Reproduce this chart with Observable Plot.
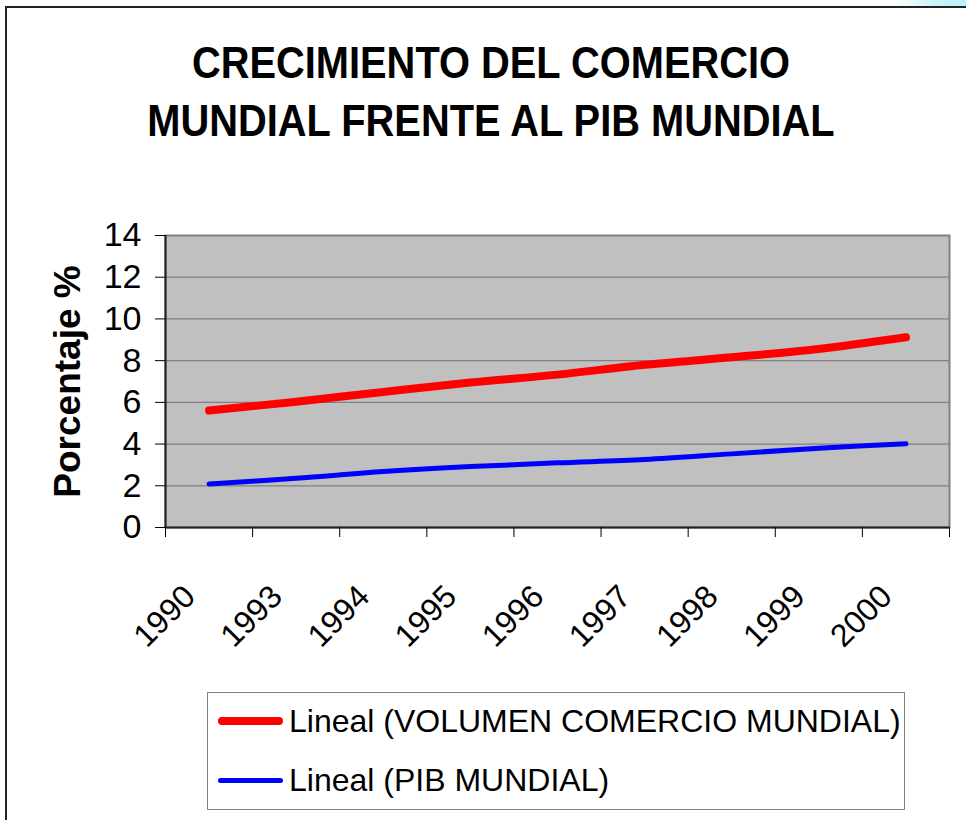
<!DOCTYPE html>
<html>
<head>
<meta charset="utf-8">
<script src="https://cdn.jsdelivr.net/npm/d3@7"></script>
<script src="https://cdn.jsdelivr.net/npm/@observablehq/plot@0.6"></script>
<style>
  html, body { margin: 0; padding: 0; background: #fff; }
  #page { position: relative; width: 966px; height: 820px; overflow: hidden; font-family: "Liberation Sans", Arial, sans-serif; color: #000; }
  #outer { position: absolute; left: 5px; top: 6px; width: 990px; height: 840px; border-left: 2px solid #222; border-top: 2px solid #222; }
  #glow { position: absolute; right: 0; top: 0; width: 70px; height: 6px; background: linear-gradient(to right, rgba(200,245,250,0), #c6f3f7 60%, #bdf0f5); }
  #title { position: absolute; left: 0; top: 0; width: 982px; text-align: center; font-weight: bold; font-size: 45px; line-height: 58px; padding-top: 34px; transform: scaleX(0.885); transform-origin: 491px 0; }
  #chart { position: absolute; left: 0; top: 165px; }
  #legend { position: absolute; left: 207px; top: 692px; width: 696px; height: 116px; border: 1.5px solid #808080; }
  .item { position: absolute; left: 0; height: 40px; font-size: 32px; white-space: nowrap; }
  .sw { position: absolute; left: 10px; width: 65px; border-radius: 5px; }
  .lab { position: absolute; left: 81px; top: 0; line-height: 40px; }
</style>
</head>
<body>
<div id="page">
  <div id="outer"></div>
  <div id="glow"></div>
  <div id="title"></div>
  <div id="chart"></div>
  <div id="legend"></div>
</div>
<script>
// ---- data ----
const titleLines = ["CRECIMIENTO DEL COMERCIO", "MUNDIAL FRENTE AL PIB MUNDIAL"];
const yLabel = "Porcentaje %";
const years = ["1990", "1993", "1994", "1995", "1996", "1997", "1998", "1999", "2000"];
const comercio = [5.61, 6.03, 6.5, 6.95, 7.33, 7.8, 8.16, 8.56, 9.12];
const pib = [2.09, 2.36, 2.68, 2.92, 3.10, 3.26, 3.53, 3.80, 4.01];
const yTicks = [0, 2, 4, 6, 8, 10, 12, 14];
const seriesNames = ["Lineal (VOLUMEN COMERCIO MUNDIAL)", "Lineal (PIB MUNDIAL)"];
const seriesColors = ["#ff0000", "#0000ff"];

// ---- title ----
document.getElementById("title").innerHTML = titleLines.map(t => `<div>${t}</div>`).join("");

// ---- chart ----
const boundaries = years.map((_, i) => i - 0.5).concat([years.length - 0.5]);
const redData = years.map((y, i) => ({i, v: comercio[i]}));
const blueData = years.map((y, i) => ({i, v: pib[i]}));

const chart = Plot.plot({
  width: 966,
  height: 502,
  marginLeft: 165,
  marginRight: 17,
  marginTop: 70,
  marginBottom: 140,
  style: {fontFamily: '"Liberation Sans", Arial, sans-serif', color: "#000", background: "transparent", overflow: "visible"},
  x: {type: "linear", domain: [-0.5, years.length - 0.5], label: null},
  y: {domain: [0, 14], label: null},
  marks: [
    Plot.frame({fill: "#c0c0c0", stroke: null}),
    Plot.gridY(yTicks, {stroke: "#808080", strokeOpacity: 1, strokeWidth: 1.2}),
    Plot.frame({stroke: "#808080", strokeWidth: 2, fill: null}),
    Plot.ruleX([-0.5], {stroke: "#222", strokeWidth: 2}),
    Plot.ruleY([0], {stroke: "#222", strokeWidth: 2}),
    Plot.axisY(yTicks, {tickSize: 10, tickPadding: 14, fontSize: 34, label: null, stroke: "#000", tickFormat: d => String(d)}),
    Plot.axisX(boundaries, {tickSize: 10, tickFormat: () => "", label: null, stroke: "#000"}),
    Plot.text(years, {x: (d, i) => i, frameAnchor: "bottom", rotate: -45, textAnchor: "end", lineAnchor: "bottom", dx: -12, dy: 71, fontSize: 32, fill: "#000"}),
    Plot.text([yLabel], {frameAnchor: "left", textAnchor: "middle", lineAnchor: "middle", rotate: -90, dx: -97, fontSize: 37, fontWeight: "bold", fill: "#000"}),
    Plot.line(redData, {x: "i", y: "v", stroke: seriesColors[0], strokeWidth: 8, strokeLinecap: "round", strokeLinejoin: "round", curve: "catmull-rom"}),
    Plot.line(blueData, {x: "i", y: "v", stroke: seriesColors[1], strokeWidth: 5, strokeLinecap: "round", strokeLinejoin: "round", curve: "catmull-rom"})
  ]
});
document.getElementById("chart").appendChild(chart);

// ---- legend ----
const legend = document.getElementById("legend");
const rows = [{top: 8, sw: 8}, {top: 67, sw: 5}];
seriesNames.forEach((name, k) => {
  const item = document.createElement("div");
  item.className = "item";
  item.style.top = rows[k].top + "px";
  item.style.width = "690px";
  const sw = document.createElement("div");
  sw.className = "sw";
  sw.style.height = rows[k].sw + "px";
  sw.style.top = (20 - rows[k].sw / 2) + "px";
  sw.style.background = seriesColors[k];
  const lab = document.createElement("div");
  lab.className = "lab";
  lab.textContent = name;
  item.appendChild(sw);
  item.appendChild(lab);
  legend.appendChild(item);
});
</script>
</body>
</html>
